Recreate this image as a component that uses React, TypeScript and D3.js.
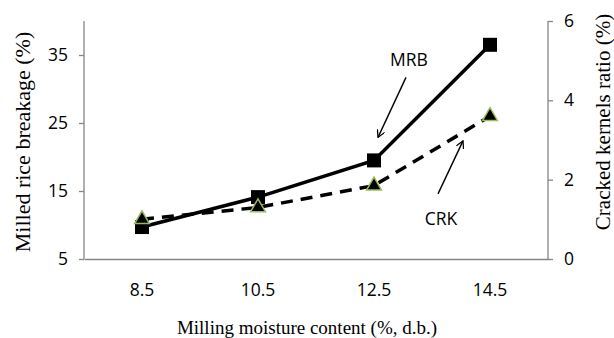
import React, { useEffect, useRef } from 'react'
import * as d3 from 'd3'

const moisture = ['8.5', '10.5', '12.5', '14.5']
const mrb = [9.7, 14.1, 19.5, 36.5]
const crk = [1.0, 1.3, 1.85, 3.6]
const leftTicks = [5, 15, 25, 35]
const rightTicks = [0, 2, 4, 6]

const W = 614
const H = 338

export default function App() {
	const ref = useRef<SVGSVGElement>(null)

	useEffect(() => {
		document.body.style.margin = '0'
		const svg = d3.select(ref.current)
		svg.selectAll('*').remove()

		const left = 84
		const right = 548
		const top = 21
		const bottom = 259
		const sans = '"Open Sans", sans-serif'
		const serif = '"Liberation Serif", "Times New Roman", serif'
		const axisColor = '#868686'
		const tickFont = '17.5px'

		const x = d3.scaleBand().domain(moisture).range([left, right])
		const yL = d3.scaleLinear().domain([5, 40]).range([bottom, top])
		const yR = d3.scaleLinear().domain([0, 6]).range([bottom, top])
		const cx = (i) => x(moisture[i]) + x.bandwidth() / 2

		const defs = svg.append('defs')
		defs
			.append('marker')
			.attr('id', 'arr')
			.attr('viewBox', '0 0 10 10')
			.attr('refX', 9)
			.attr('refY', 5)
			.attr('markerWidth', 8)
			.attr('markerHeight', 8)
			.attr('markerUnits', 'userSpaceOnUse')
			.attr('orient', 'auto')
			.append('path')
			.attr('d', 'M0,0 L9,5 L0,10')
			.attr('fill', 'none')
			.attr('stroke', '#000')
			.attr('stroke-width', 1.6)

		// axes
		const leftAxis = svg
			.append('g')
			.attr('transform', `translate(${left},0)`)
			.call(d3.axisLeft(yL).tickValues(leftTicks).tickSize(5).tickPadding(11).tickSizeOuter(0))
		const rightAxis = svg
			.append('g')
			.attr('transform', `translate(${right},0)`)
			.call(
				d3
					.axisRight(yR)
					.tickValues(rightTicks)
					.tickFormat(d3.format('d'))
					.tickSize(5)
					.tickPadding(11)
					.tickSizeOuter(0)
			)
		const bottomAxis = svg
			.append('g')
			.attr('transform', `translate(0,${bottom})`)
			.call(d3.axisBottom(x).tickSize(0).tickPadding(25).tickSizeOuter(0))

		for (const g of [leftAxis, rightAxis, bottomAxis]) {
			g.selectAll('path, line').attr('stroke', axisColor).attr('stroke-width', 1.3)
			g.selectAll('text')
				.attr('fill', '#000')
				.style('font-family', sans)
				.style('font-size', tickFont)
		}
		leftAxis.select('.domain').attr('d', `M0,${top}V${bottom}`)
		rightAxis.select('.domain').attr('d', `M0,${top}V${bottom}`)

		// lines
		const mrbLine = d3
			.line<number>()
			.x((d, i) => cx(i))
			.y((d) => yL(d))
		const crkLine = d3
			.line<number>()
			.x((d, i) => cx(i))
			.y((d) => yR(d))

		svg
			.append('path')
			.attr('d', crkLine(crk))
			.attr('fill', 'none')
			.attr('stroke', '#000')
			.attr('stroke-width', 3.5)
			.attr('stroke-dasharray', '12,8')

		svg
			.append('path')
			.attr('d', mrbLine(mrb))
			.attr('fill', 'none')
			.attr('stroke', '#000')
			.attr('stroke-width', 3.5)

		svg
			.selectAll('.sq')
			.data(mrb)
			.enter()
			.append('rect')
			.attr('class', 'sq')
			.attr('x', (d, i) => cx(i) - 7)
			.attr('y', (d) => yL(d) - 7)
			.attr('width', 14)
			.attr('height', 14)
			.attr('fill', '#000')

		const tri = d3.symbol().type(d3.symbolTriangle).size(95)
		svg
			.selectAll('.tri')
			.data(crk)
			.enter()
			.append('path')
			.attr('class', 'tri')
			.attr('d', tri)
			.attr('transform', (d, i) => `translate(${cx(i)},${yR(d)})`)
			.attr('fill', '#000')
			.attr('stroke', '#9bbb59')
			.attr('stroke-width', 1.5)

		// annotations
		const p3 = { x: cx(2), y: yL(mrb[2]) }
		svg
			.append('text')
			.attr('x', p3.x + 35)
			.attr('y', p3.y - 94)
			.attr('text-anchor', 'middle')
			.style('font-family', sans)
			.style('font-size', tickFont)
			.text('MRB')
		svg
			.append('line')
			.attr('x1', p3.x + 32)
			.attr('y1', p3.y - 83)
			.attr('x2', p3.x + 4)
			.attr('y2', p3.y - 23)
			.attr('stroke', '#000')
			.attr('stroke-width', 1.4)
			.attr('marker-end', 'url(#arr)')

		const q = { x: (cx(2) + cx(3)) / 2, y: (yR(crk[2]) + yR(crk[3])) / 2 }
		svg
			.append('text')
			.attr('x', q.x + 9)
			.attr('y', q.y + 74)
			.attr('text-anchor', 'middle')
			.style('font-family', sans)
			.style('font-size', tickFont)
			.text('CRK')
		svg
			.append('line')
			.attr('x1', q.x + 6)
			.attr('y1', q.y + 43)
			.attr('x2', q.x + 31)
			.attr('y2', q.y - 10)
			.attr('stroke', '#000')
			.attr('stroke-width', 1.4)
			.attr('marker-end', 'url(#arr)')

		// axis titles
		svg
			.append('text')
			.attr('x', 307)
			.attr('y', 334)
			.attr('text-anchor', 'middle')
			.style('font-family', serif)
			.style('font-size', '19px')
			.text('Milling moisture content (%, d.b.)')

		svg
			.append('text')
			.attr('transform', `translate(30,142) rotate(-90)`)
			.attr('text-anchor', 'middle')
			.style('font-family', serif)
			.style('font-size', '22px')
			.text('Milled rice breakage (%)')

		svg
			.append('text')
			.attr('transform', `translate(610,122) rotate(-90)`)
			.attr('text-anchor', 'middle')
			.style('font-family', serif)
			.style('font-size', '21px')
			.text('Cracked kernels ratio (%)')
	}, [])

	return <svg ref={ref} width={W} height={H} style={{ display: 'block', background: '#fff' }} />
}
